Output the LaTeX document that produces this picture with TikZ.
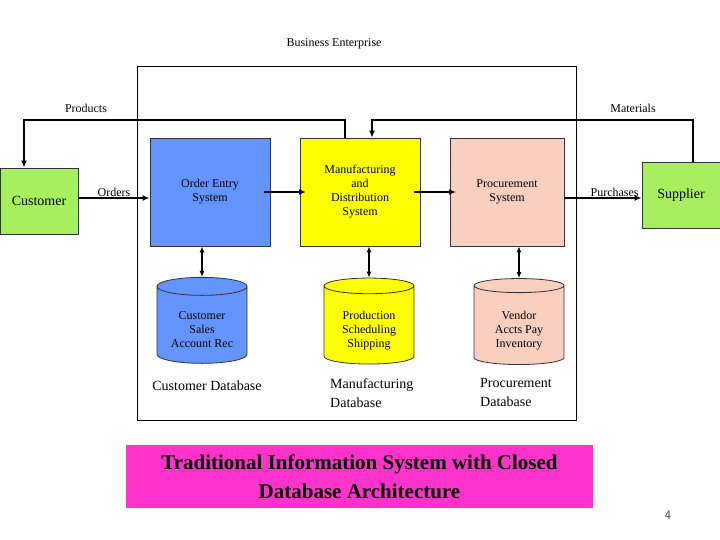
\documentclass[tikz,border=0pt]{standalone}
\usepackage{fontspec}
\setmainfont{Liberation Serif}
\usetikzlibrary{shapes.geometric,arrows.meta}
\definecolor{custgreen}{HTML}{A6F060}
\definecolor{sysblue}{HTML}{6495FF}
\definecolor{sysyellow}{HTML}{FFFF00}
\definecolor{syspink}{HTML}{F9CFC0}
\definecolor{titlepink}{HTML}{FF33CC}
\begin{document}
\begin{tikzpicture}[
  x=1pt, y=-1pt,
  every node/.style={font=\fontsize{12}{14}\selectfont, align=center, inner sep=1pt},
  sys/.style={draw=black!80, thick, minimum width=120pt, minimum height=108pt},
  party/.style={draw=black!80, thick, fill=custgreen, minimum width=78pt, minimum height=66pt, font=\fontsize{14}{16}\selectfont},
  db/.style={cylinder, shape border rotate=90, aspect=0.28, draw=black!80, thick, minimum width=90pt, minimum height=86pt, text depth=0pt},
  flow/.style={-{Latex[length=7pt,width=6pt]}, line width=1.6pt},
  link/.style={{Latex[length=6pt,width=5pt]}-{Latex[length=6pt,width=5pt]}, line width=1.6pt}
]
  \useasboundingbox (0,0) rectangle (720,540);
  % enterprise boundary
  \node[draw, thick, minimum width=439pt, minimum height=354pt, inner sep=0pt] (ent) at (356.5,243) {};
  \node (entlabel) at (334,44) {Business Enterprise};
  % parties and systems
  \node[party] (customer) at (39,201) {Customer};
  \node[party, minimum height=66pt] (supplier) at (681,195) {Supplier};
  \node[sys, fill=sysblue] (order) at (210,192) {Order Entry\\System};
  \node[sys, fill=sysyellow] (manuf) at (360,192) {Manufacturing\\and\\Distribution\\System};
  \node[sys, fill=syspink, minimum width=114pt] (proc) at (507,192) {Procurement\\System};
  % databases
  \node[db, fill=sysblue] (custdb) at (202,326) {\\Customer\\Sales\\Account Rec};
  \node[db, fill=sysyellow] (manufdb) at (369,326) {\\Production\\Scheduling\\Shipping};
  \node[db, fill=syspink] (procdb) at (519,326) {\\Vendor\\Accts Pay\\Inventory};
  \node[font=\fontsize{14}{17}\selectfont] (custdbl) at (207,386) {Customer Database};
  \node[font=\fontsize{14}{19}\selectfont, align=left, anchor=north west] (manufdbl) at (329,377) {Manufacturing\\Database};
  \node[font=\fontsize{14}{19}\selectfont, align=left, anchor=north west] (procdbl) at (479,377) {Procurement\\Database};
  % flows
  \coordinate (pr) at (345,120);
  \coordinate (pl) at (24,120);
  \coordinate (mr) at (693,120);
  \coordinate (ml) at (372,120);
  \draw[flow, rounded corners=0pt] (manuf.north -| pr) -- (pr) -- (pl) -- (customer.north -| pl);
  \draw[flow] (supplier.north -| mr) -- (mr) -- (ml) -- (manuf.north -| ml);
  \node (products) at (86,108) {Products};
  \node (materials) at (633,108) {Materials};
  \draw[flow] (customer.east |- 0,198) -- node[above, pos=0.5] (orders) {Orders} (order.west |- 0,198);
  \draw[flow] (proc.east |- 0,198) -- node[above, pos=0.65] (purch) {Purchases} (supplier.west |- 0,198);
  \draw[flow] (264,192) -- (306,192);
  \draw[flow] (414,192) -- (456,192);
  \draw[link] (order.south -| custdb) -- (custdb.north);
  \draw[link] (manuf.south -| manufdb) -- (manufdb.north);
  \draw[link] (proc.south -| procdb) -- (procdb.north);
  % title
  \node[fill=titlepink, minimum width=467pt, minimum height=63pt, font=\bfseries\fontsize{21}{29}\selectfont] (title) at (359.5,476.5) {Traditional Information System with Closed\\Database Architecture};
  \node[font=\fontfamily{lmss}\fontsize{13}{15}\selectfont, text=black!70] (page) at (668,515) {4};
\end{tikzpicture}
\end{document}
